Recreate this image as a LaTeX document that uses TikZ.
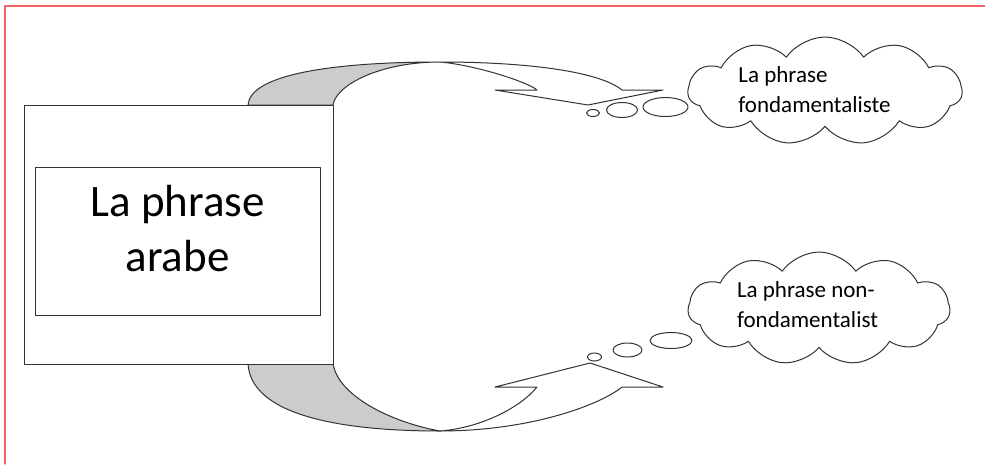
\documentclass[tikz,border=0pt]{standalone}
\usepackage{fontspec}
\setmainfont{Carlito}
\usetikzlibrary{shapes.symbols}
\definecolor{cadrerouge}{RGB}{245,100,100}

\begin{document}
\begin{tikzpicture}[x=1pt,y=-1pt,line cap=round,line join=round,
  trait/.style={draw=black!80,line width=1pt},
  dos/.style={trait,fill=black!20},
  face/.style={trait,fill=white},
  cadre/.style={trait,fill=white,rectangle,inner sep=0pt},
  nuage/.style={trait,fill=white,cloud,cloud puffs=11,cloud puff arc=110,aspect=2.5,inner sep=0pt},
  bulle/.style={trait,fill=white},
  texte/.style={align=left,font=\fontsize{23}{30}\selectfont,inner sep=0pt}]

\useasboundingbox (0,0) rectangle (985,464);

% ---- red frame (only top and left are visible) ----
\draw[cadrerouge,line width=1.3pt] (5,464) -- (5,6) -- (985,6);

% ---- upper curved arrow: grey back, white front ----
\coordinate (hsommet) at (440,62);
\draw[dos] (248,105) .. controls (250,75) and (330,62) .. (hsommet)
  .. controls (380,62) and (336,85) .. (333,105) -- cycle;
\draw[face] (hsommet) .. controls (530,62) and (600,72) .. (622,90)
  -- (663,90) -- (588,105) -- (495,90) -- (537,90)
  .. controls (528,82) and (475,65) .. (hsommet) -- cycle;

% ---- lower curved arrow ----
\coordinate (bsommet) at (440,431);
\draw[dos] (248,363) .. controls (250,415) and (340,431) .. (bsommet)
  .. controls (390,422) and (337,395) .. (333,363) -- cycle;
\draw[face] (bsommet) .. controls (530,431) and (600,405) .. (622,387)
  -- (663,387) -- (590,363) -- (495,387) -- (537,387)
  .. controls (520,408) and (480,428) .. (bsommet) -- cycle;

% ---- the two boxes ----
\node[cadre,minimum width=309pt,minimum height=259pt] (boite) at (178.5,234.5) {};
\node[cadre,minimum width=285pt,minimum height=148pt] (arabe) at (177.5,241) {};
\node[align=center,font=\fontsize{45}{55}\selectfont,inner sep=0pt] (titre) at (177.5,229) {La phrase\\arabe};

% ---- thought bubbles ----
\draw[bulle] (593,113) ellipse (6.5 and 3.5);
\draw[bulle] (622,110) ellipse (15.5 and 7.5);
\draw[bulle] (665.5,107) ellipse (22.5 and 9.5);

\draw[bulle] (594.5,357) ellipse (7 and 4);
\draw[bulle] (627.5,350) ellipse (14.5 and 7);
\draw[bulle] (671,340.5) ellipse (21 and 8);

% ---- clouds ----
\node[nuage,minimum width=274pt,minimum height=108pt] (fond) at (825,91) {};
\node[texte] (txtfond) at (814.5,89.5) {La phrase\\fondamentaliste};

\node[nuage,minimum width=262pt,minimum height=113pt] (nonfond) at (819,308.5) {};
\node[texte] (txtnonfond) at (807.5,304.5) {La phrase non-\\fondamentalist};

\end{tikzpicture}
\end{document}
